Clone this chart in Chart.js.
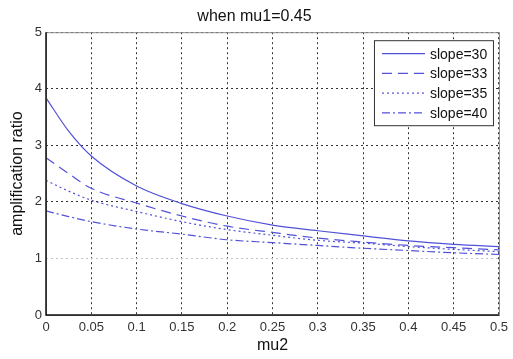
<!DOCTYPE html>
<html>
<head>
<meta charset="utf-8">
<script src="https://cdn.jsdelivr.net/npm/chart.js@4"></script>
<style>
    body { margin: 0; background: #fff; }
    canvas { display: block; }
</style>
</head>
<body>
<canvas id="ampChart" width="513" height="359"></canvas>
<script>
// DATA
const mu2 = [0, 0.025, 0.05, 0.1, 0.15, 0.2, 0.25, 0.3, 0.35, 0.4, 0.45, 0.5];

const slope30 = [3.84, 3.25, 2.81, 2.28, 1.97, 1.75, 1.59, 1.49, 1.40, 1.31, 1.25, 1.21];
const slope33 = [2.78, 2.50, 2.24, 1.98, 1.75, 1.57, 1.46, 1.36, 1.29, 1.23, 1.19, 1.15];
const slope35 = [2.38, 2.19, 2.03, 1.83, 1.65, 1.51, 1.41, 1.32, 1.27, 1.21, 1.16, 1.12];
const slope40 = [1.84, 1.74, 1.65, 1.52, 1.43, 1.33, 1.28, 1.23, 1.18, 1.14, 1.10, 1.07];

const seriesLabels = ["slope=30", "slope=33", "slope=35", "slope=40"];
const xTicks = [0, 0.05, 0.1, 0.15, 0.2, 0.25, 0.3, 0.35, 0.4, 0.45, 0.5];
const yTicks = [0, 1, 2, 3, 4, 5];

const FONT = "'Liberation Sans', Arial, sans-serif";
const LINE_COLOR = "#5252d9";

const dashes = [[], [10, 6], [2, 3], [8, 3, 2, 3]];
const seriesValues = [slope30, slope33, slope35, slope40];

const datasets = seriesValues.map((vals, i) => {
    return {
        label: seriesLabels[i],
        data: mu2.map((x, j) => ({ x: x, y: vals[j] })),
        borderColor: LINE_COLOR,
        borderWidth: 1.2,
        borderDash: dashes[i],
        pointRadius: 0,
        fill: false,
        cubicInterpolationMode: "monotone"
    };
});

// frame + legend drawn on top of the plot
const framePlugin = {
    id: "frame",
    afterDraw(chart) {
        const ctx = chart.ctx;
        const a = chart.chartArea;
        ctx.save();

        // gray box, black left/bottom axes
        ctx.strokeStyle = "#8a8a8a";
        ctx.lineWidth = 1;
        ctx.strokeRect(a.left + 0.5, a.top + 0.5, a.right - a.left, a.bottom - a.top);
        ctx.strokeStyle = "#111";
        ctx.lineWidth = 1.5;
        ctx.beginPath();
        ctx.moveTo(a.left, a.top);
        ctx.lineTo(a.left, a.bottom);
        ctx.lineTo(a.right, a.bottom);
        ctx.stroke();

        // legend box
        const bw = 119, bh = 85;
        const bx = a.right - 6 - bw;
        const by = a.top + 8;
        ctx.fillStyle = "#fff";
        ctx.fillRect(bx, by, bw, bh);
        ctx.strokeStyle = "#333";
        ctx.lineWidth = 1;
        ctx.strokeRect(bx + 0.5, by + 0.5, bw, bh);

        ctx.font = "14px " + FONT;
        ctx.textBaseline = "middle";
        chart.data.datasets.forEach((ds, i) => {
            const ry = by + 13.5 + i * 19.7;
            ctx.strokeStyle = ds.borderColor;
            ctx.lineWidth = 1.2;
            ctx.setLineDash(ds.borderDash);
            ctx.beginPath();
            ctx.moveTo(bx + 8, ry);
            ctx.lineTo(bx + 51, ry);
            ctx.stroke();
            ctx.setLineDash([]);
            ctx.fillStyle = "#111";
            ctx.fillText(ds.label, bx + 56, ry + 1);
        });
        ctx.restore();
    }
};

new Chart(document.getElementById("ampChart"), {
    type: "line",
    data: { datasets },
    plugins: [framePlugin],
    options: {
        responsive: false,
        animation: false,
        layout: {
            padding: { left: 8, right: 12, top: 0, bottom: 4 }
        },
        plugins: {
            legend: { display: false },
            tooltip: { enabled: false },
            title: {
                display: true,
                text: "when mu1=0.45",
                color: "#111",
                font: { family: FONT, size: 16, weight: "normal" },
                padding: { top: 7, bottom: 6 }
            }
        },
        scales: {
            x: {
                type: "linear",
                min: 0,
                max: 0.5,
                afterBuildTicks: s => { s.ticks = xTicks.map(v => ({ value: v })); },
                afterFit: s => { s.height = 40; },
                ticks: {
                    color: "#333",
                    font: { family: FONT, size: 13 },
                    padding: 5,
                    maxRotation: 0,
                    callback: v => String(+v.toFixed(2))
                },
                grid: {
                    color: "#333",
                    lineWidth: 1,
                    drawTicks: false
                },
                border: { display: false, dash: [2, 3] },
                title: {
                    display: true,
                    text: "mu2",
                    color: "#111",
                    font: { family: FONT, size: 16 },
                    padding: { top: 0, bottom: 0 }
                }
            },
            y: {
                min: 0,
                max: 5,
                afterBuildTicks: s => { s.ticks = yTicks.map(v => ({ value: v })); },
                afterFit: s => { s.width = 38; },
                ticks: {
                    color: "#333",
                    font: { family: FONT, size: 13 },
                    padding: 4
                },
                grid: {
                    color: c => (c.tick && c.tick.value === 1) ? "#c4c4c4" : "#333",
                    lineWidth: 1,
                    drawTicks: false
                },
                border: { display: false, dash: [2, 3] },
                title: {
                    display: true,
                    text: "amplification ratio",
                    color: "#111",
                    font: { family: FONT, size: 16 },
                    padding: { top: 0, bottom: 2 }
                }
            }
        }
    }
});
</script>
</body>
</html>
